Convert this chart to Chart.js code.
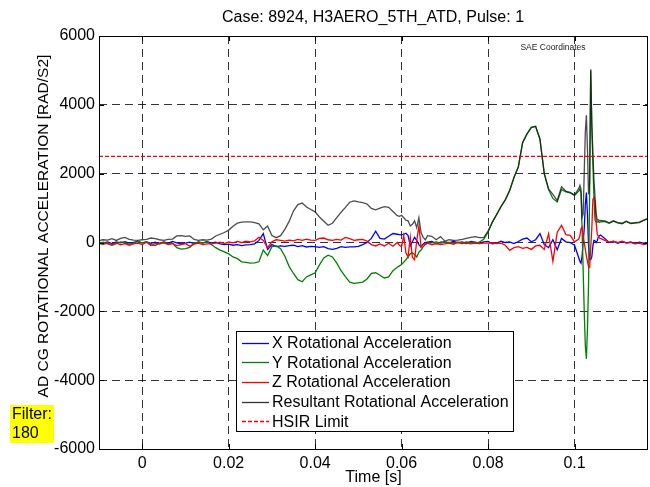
<!DOCTYPE html>
<html><head><meta charset="utf-8">
<script src="https://cdn.jsdelivr.net/npm/chart.js@4.4.0/dist/chart.umd.min.js"></script>
<style>html,body{margin:0;padding:0;background:#fff;}canvas{display:block;}</style>
</head><body>
<canvas id="c" width="650" height="487"></canvas>
<script>
// time in milliseconds
const timeMs = [
 -10,-9,-8,-7,-6,-5,-4,-3,-2,-1, 0,1,2,3,4,5,6,7,8,9, 10,11,12,13,14,15,16,17,18,19,
 20,21,22,23,24,25,26,27,28,29, 30,31,32,33,34,35,36,37,38,39, 40,41,42,43,44,45,46,47,48,49,
 50,51,52,53,54,55,56,57,58,59,
 59.5,60,60.5,61,61.5,62,62.5,63,63.5,64,64.5,65,65.5,66,
 67,68,69,70,71,72,73,74,75,76, 77,78,79,80,81,82,83,84,85,86, 87,88,89,90,91,92,93,94,95,96, 97,98,99,100,101,
 101.25,101.5,101.75,102,102.25,102.5,102.75,103,103.25,103.5,103.75,104,104.25,104.5,104.75,105,105.25,105.5,105.75,106,
 107,108,109,110,111,112,113,114,115,116,117
];
const xRotAcc = [
 10,-20,15,-30,20,-10,25,-20,5,30, -15,20,-25,10,-35,15,-20,30,-10,-40, -20,10,-30,20,-15,25,-10,10,-40,-60,
 -50,-80,-60,-90,-70,-60,-40,60,260,-200, -60,-120,-100,-110,-90,-80,-120,-90,-130,-110, -120,-140,-120,-180,-200,-170,-120,-140,-130,-130,
 -110,-60,0,120,330,120,100,180,260,240,
 230,220,240,270,200,-100,20,150,60,-60,-130,-40,0,10,
 30,-40,10,20,-20,40,-10,20,-30,30, 10,-20,20,30,-40,-20,40,0,20,-30, 30,100,130,20,80,260,-60,-150,80,-210, 120,20,0,-80,-450,
 -550,-600,-400,0,400,1100,1450,800,-100,-500,-500,-420,-100,60,50,0,50,150,200,220,
 120,0,40,-20,30,-10,20,-30,10,-20,0
];
const yRotAcc = [
 -20,10,-40,-80,-30,20,-10,-50,-20,30, -10,20,-60,-90,-20,10,-40,-20,-150,-190, -180,-140,-20,10,-10,20,-60,-150,-220,-270,
 -330,-420,-470,-560,-580,-600,-590,-560,-220,-380, -120,-100,-180,-400,-700,-900,-1080,-1140,-1000,-940, -880,-650,-450,-370,-420,-600,-820,-990,-1150,-1190,
 -1170,-1150,-1060,-900,-880,-950,-1030,-1000,-820,-720,
 -680,-640,-570,-500,-420,-330,-300,-350,-420,-280,-220,-120,-60,-20,
 -10,20,-20,10,0,-20,10,-10,20,0, -20,10,90,300,590,810,1040,1240,1500,1880, 2190,2900,3150,3340,3370,3000,2000,1540,1280,1180, 1540,1470,1440,1370,1500,
 1560,1440,400,-800,-2000,-3000,-3380,-2500,-1200,1500,5000,3400,2300,1300,650,600,590,610,580,600,
 610,560,620,570,540,610,550,560,580,640,690
];
const zRotAcc = [
 -30,-50,-20,-60,-10,-70,-30,-80,-40,-20, -60,10,-90,-30,-40,-10,-60,-30,-90,-60, -30,-110,-50,-20,-60,-40,-40,-20,10,-30,
 20,-10,30,0,40,20,50,150,60,-150, 20,80,60,40,70,50,90,60,100,70, 60,120,130,80,60,90,70,150,110,60,
 80,90,40,-60,-100,-40,-100,-20,-110,0,
 -80,-120,200,-300,-420,150,-430,-500,50,480,-130,-60,-40,-20,
 -70,-30,-60,-40,-20,-50,0,-30,-10,-40, -20,-30,-20,-20,-10,-30,-20,-80,-230,-150, -120,-170,-140,-200,-100,-80,-200,250,-550,300, 500,230,210,20,100,
 200,400,450,200,0,-200,-400,-550,-700,-720,-130,400,1250,1300,1150,600,250,180,130,120,
 60,10,30,0,40,-20,0,-40,-20,-60,-30
];
const resRotAcc = [
 60,80,70,110,60,120,150,90,70,60, 80,90,130,110,80,60,90,100,190,200, 180,190,90,60,80,70,100,190,240,290,
 360,470,560,590,600,600,580,540,370,480, 200,140,200,380,620,920,1100,1150,1030,960, 890,740,620,500,560,720,880,1020,1170,1210,
 1180,1160,1120,990,950,1000,1040,1020,900,780,
 760,790,720,650,630,480,530,630,430,720,290,150,80,200,
 180,80,170,40,80,60,70,90,120,150, 170,140,140,330,600,820,1050,1250,1520,1900, 2200,2910,3160,3350,3380,3010,2010,1560,1400,1220, 1620,1490,1460,1380,1570,
 1660,1560,730,830,2040,3200,3700,2680,1400,1730,5030,3450,2620,1800,1320,850,650,660,630,640,
 630,570,630,580,560,620,560,575,590,650,700
];
const hsirTime = [-0.01, 0.117];
const hsirLimit = [2500, 2500];
const xTicks = [0, 0.02, 0.04, 0.06, 0.08, 0.1];
const xTickLabels = ['0', '0.02', '0.04', '0.06', '0.08', '0.1'];
const yTicks = [-6000, -4000, -2000, 0, 2000, 4000, 6000];
const yTickLabels = ['-6000', '-4000', '-2000', '0', '2000', '4000', '6000'];
const seriesNames = ['X Rotational Acceleration', 'Y Rotational Acceleration', 'Z Rotational Acceleration', 'Resultant Rotational Acceleration', 'HSIR Limit'];
const titleText = 'Case: 8924, H3AERO_5TH_ATD, Pulse: 1';
const yTitle = 'AD CG ROTATIONAL ACCELERATION [RAD/S2]';
const xTitle = 'Time [s]';
const filterLines = ['Filter:', '180'];
const noteText = 'SAE Coordinates';

const FONT = '"Liberation Sans", Arial, sans-serif';
const toPts = arr => timeMs.map((t, i) => ({x: t / 1000, y: arr[i]}));
const colors = ['#0000ff', '#008000', '#ff0000', 'rgba(25,25,25,0.78)', '#ff0000'];

const overlay = {
  id: 'overlay',
  afterDatasetsDraw(chart) {
    const ctx = chart.ctx, a = chart.chartArea;
    const xs = chart.scales.x, ys = chart.scales.y;
    ctx.save();
    // box
    ctx.strokeStyle = '#000'; ctx.lineWidth = 1; ctx.setLineDash([]);
    ctx.strokeRect(Math.round(a.left) + 0.5, Math.round(a.top) + 0.5, Math.round(a.right - a.left) - 1, Math.round(a.bottom - a.top));
    // inward ticks
    ctx.beginPath();
    xTicks.forEach(v => {
      const p = Math.round(xs.getPixelForValue(v)) + 0.5;
      ctx.moveTo(p, a.top); ctx.lineTo(p, a.top + 5);
      ctx.moveTo(p, a.bottom); ctx.lineTo(p, a.bottom - 5);
    });
    yTicks.forEach(v => {
      const p = Math.round(ys.getPixelForValue(v)) + 0.5;
      ctx.moveTo(a.left, p); ctx.lineTo(a.left + 5, p);
      ctx.moveTo(a.right, p); ctx.lineTo(a.right - 5, p);
    });
    ctx.stroke();
    // legend
    const lx = 236, ly = 331, lw = 277, lh = 100;
    ctx.fillStyle = '#fff';
    ctx.fillRect(lx, ly, lw, lh);
    ctx.strokeStyle = '#000';
    ctx.strokeRect(lx + 0.5, ly + 0.5, lw, lh);
    ctx.font = '16px ' + FONT;
    ctx.textBaseline = 'middle'; ctx.textAlign = 'left';
    seriesNames.forEach((name, i) => {
      const y = ly + 11.5 + i * 19.7;
      const ds = chart.data.datasets[i];
      ctx.beginPath();
      ctx.strokeStyle = i === 3 ? '#333' : ds.borderColor;
      ctx.lineWidth = 1.3;
      ctx.setLineDash(ds.borderDash || []);
      ctx.moveTo(242, Math.round(y) + 0.5); ctx.lineTo(269, Math.round(y) + 0.5);
      ctx.stroke();
      ctx.setLineDash([]);
      ctx.fillStyle = '#000';
      ctx.fillText(name, 272, y + 1);
    });
    ctx.restore();
  },
  afterDraw(chart) {
    const ctx = chart.ctx;
    ctx.save();
    ctx.fillStyle = '#000';
    ctx.font = '16px ' + FONT;
    ctx.textAlign = 'center'; ctx.textBaseline = 'middle';
    ctx.fillText(titleText, 373, 18);
    // y title
    ctx.save();
    ctx.translate(44, 226);
    ctx.rotate(-Math.PI / 2);
    ctx.font = '15.5px ' + FONT;
    ctx.fillText(yTitle, 0, 0);
    ctx.restore();
    // filter box
    ctx.fillStyle = '#ffff00';
    ctx.fillRect(10, 405, 44, 38);
    ctx.fillStyle = '#000';
    ctx.textAlign = 'left';
    ctx.font = '16px ' + FONT;
    ctx.fillText(filterLines[0], 12, 415);
    ctx.fillText(filterLines[1], 12, 434);
    // note
    ctx.font = '8.5px ' + FONT;
    ctx.fillStyle = '#222';
    ctx.textAlign = 'center';
    ctx.fillText(noteText, 553, 48);
    ctx.restore();
  }
};

new Chart(document.getElementById('c'), {
  type: 'line',
  data: {
    datasets: [
      {label: seriesNames[0], data: toPts(xRotAcc), borderColor: colors[0], borderWidth: 1.3, order: 4},
      {label: seriesNames[1], data: toPts(yRotAcc), borderColor: colors[1], borderWidth: 1.3, order: 3},
      {label: seriesNames[2], data: toPts(zRotAcc), borderColor: colors[2], borderWidth: 1.3, order: 2},
      {label: seriesNames[3], data: toPts(resRotAcc), borderColor: colors[3], borderWidth: 1.3, order: 1},
      {label: seriesNames[4], data: hsirTime.map((t, i) => ({x: t, y: hsirLimit[i]})), borderColor: colors[4], borderWidth: 1.2, borderDash: [4, 2], order: 0}
    ]
  },
  options: {
    responsive: false, animation: false, devicePixelRatio: 1,
    layout: {padding: {top: 36, right: 2, left: 0, bottom: 0}},
    elements: {point: {radius: 0, hoverRadius: 0}, line: {tension: 0, fill: false}},
    plugins: {legend: {display: false}, tooltip: {enabled: false}, title: {display: false}},
    scales: {
      x: {
        type: 'linear', min: -0.01, max: 0.117,
        afterBuildTicks: s => { s.ticks = xTicks.map(v => ({value: v})); },
        afterFit: s => { s.height = 38; },
        ticks: {callback: v => xTickLabels[xTicks.indexOf(v)], color: '#000', font: {size: 16, family: FONT}, padding: 5, maxRotation: 0, autoSkip: false},
        grid: {color: 'rgba(0,0,0,0.8)', lineWidth: 1, drawTicks: false},
        border: {display: false, dash: [8, 5]},
        title: {display: true, text: xTitle, color: '#000', font: {size: 16, family: FONT}, padding: {top: 0, bottom: 0}}
      },
      y: {
        type: 'linear', min: -6000, max: 6000,
        afterBuildTicks: s => { s.ticks = yTicks.map(v => ({value: v})); },
        afterFit: s => { s.width = 99; },
        ticks: {callback: v => yTickLabels[yTicks.indexOf(v)], color: '#000', font: {size: 16, family: FONT}, padding: 4, autoSkip: false},
        grid: {color: 'rgba(0,0,0,0.8)', lineWidth: 1, drawTicks: false},
        border: {display: false, dash: [8, 5]}
      }
    }
  },
  plugins: [overlay]
});
</script>
</body></html>
